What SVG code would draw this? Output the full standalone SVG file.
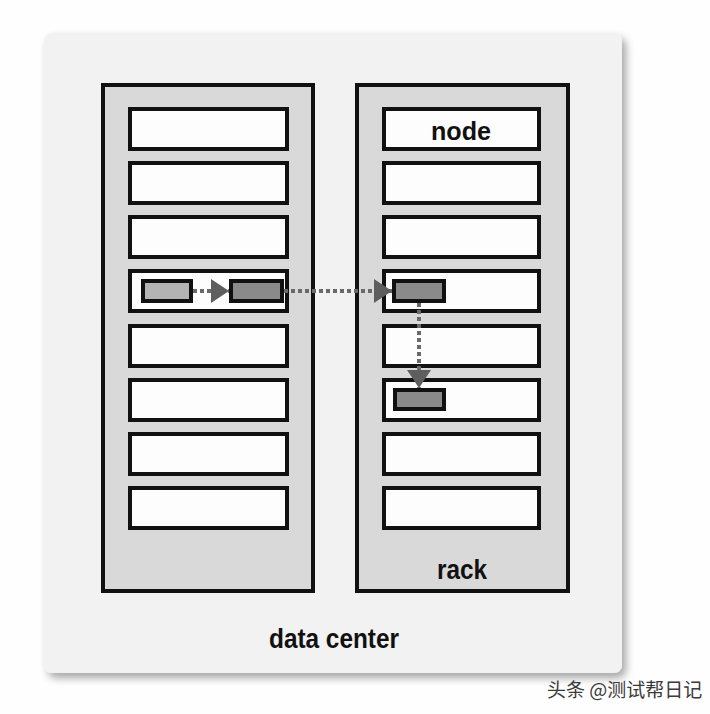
<svg xmlns="http://www.w3.org/2000/svg" width="710" height="714" viewBox="0 0 710 714">
<defs>
<filter id="sh" x="-5%" y="-5%" width="115%" height="115%">
<feGaussianBlur in="SourceAlpha" stdDeviation="4"/>
<feOffset dx="4" dy="5" result="b"/>
<feComponentTransfer><feFuncA type="linear" slope="0.35"/></feComponentTransfer>
<feMerge><feMergeNode/><feMergeNode in="SourceGraphic"/></feMerge>
</filter>
<marker id="ah" markerUnits="userSpaceOnUse" markerWidth="20" markerHeight="26" refX="18" refY="12" orient="auto">
<path d="M0,0 L18,12 L0,24 Z" fill="#5e5e5e"/>
</marker>
<style>
.rack{fill:#d9d9da;stroke:#111;stroke-width:4}
.node{fill:#fdfdfd;stroke:#111;stroke-width:4}
.blk1{fill:#b4b4b4;stroke:#111;stroke-width:4}
.blk2{fill:#8a8a8a;stroke:#111;stroke-width:4}
.lbl{font-family:"Liberation Sans",Arial,sans-serif;font-weight:bold;fill:#111;text-anchor:middle}
.dot{fill:none;stroke:#6a6a6a;stroke-width:4;stroke-dasharray:4 3}
</style>
</defs>
<rect width="710" height="714" fill="#fefefe"/>
<g id="datacenter">
<rect x="44" y="33" width="578" height="640" rx="8" fill="#f2f2f3" filter="url(#sh)"/>
<text class="lbl" x="334" y="648" font-size="28" textLength="130" lengthAdjust="spacingAndGlyphs">data center</text>
</g>
<g id="rack1">
<rect class="rack" x="103" y="85" width="210" height="506"/>
<rect class="node" x="130" y="109" width="157" height="40"/>
<rect class="node" x="130" y="163" width="157" height="40"/>
<rect class="node" x="130" y="217" width="157" height="40"/>
<rect class="node" x="130" y="271" width="157" height="40"/>
<rect class="node" x="130" y="326" width="157" height="40"/>
<rect class="node" x="130" y="380" width="157" height="40"/>
<rect class="node" x="130" y="434" width="157" height="40"/>
<rect class="node" x="130" y="488" width="157" height="40"/>
<rect class="blk1" x="143" y="281" width="48" height="20"/>
<rect class="blk2" x="231" y="281" width="51" height="20"/>
</g>
<g id="rack2">
<rect class="rack" x="357" y="85" width="211" height="506"/>
<rect class="node" x="384" y="109" width="155" height="40"/>
<rect class="node" x="384" y="163" width="155" height="40"/>
<rect class="node" x="384" y="217" width="155" height="40"/>
<rect class="node" x="384" y="271" width="155" height="40"/>
<rect class="node" x="384" y="326" width="155" height="40"/>
<rect class="node" x="384" y="380" width="155" height="40"/>
<rect class="node" x="384" y="434" width="155" height="40"/>
<rect class="node" x="384" y="488" width="155" height="40"/>
<rect class="blk2" x="394" y="281" width="50" height="20"/>
<rect class="blk2" x="395" y="390" width="49" height="19"/>
<text class="lbl" x="461" y="140" font-size="26" textLength="60" lengthAdjust="spacingAndGlyphs">node</text>
<text class="lbl" x="462" y="579" font-size="28" textLength="50" lengthAdjust="spacingAndGlyphs">rack</text>
</g>
<g id="connectors">
<path class="dot" d="M193,291 H229" marker-end="url(#ah)"/>
<path class="dot" d="M284,291 H392" marker-end="url(#ah)"/>
<path class="dot" d="M419,303 V388" marker-end="url(#ah)"/>
</g>
<text x="547" y="697" font-family="'Noto Sans CJK SC',sans-serif" font-size="19" fill="#3a3a3a">头条 @测试帮日记</text>
</svg>
